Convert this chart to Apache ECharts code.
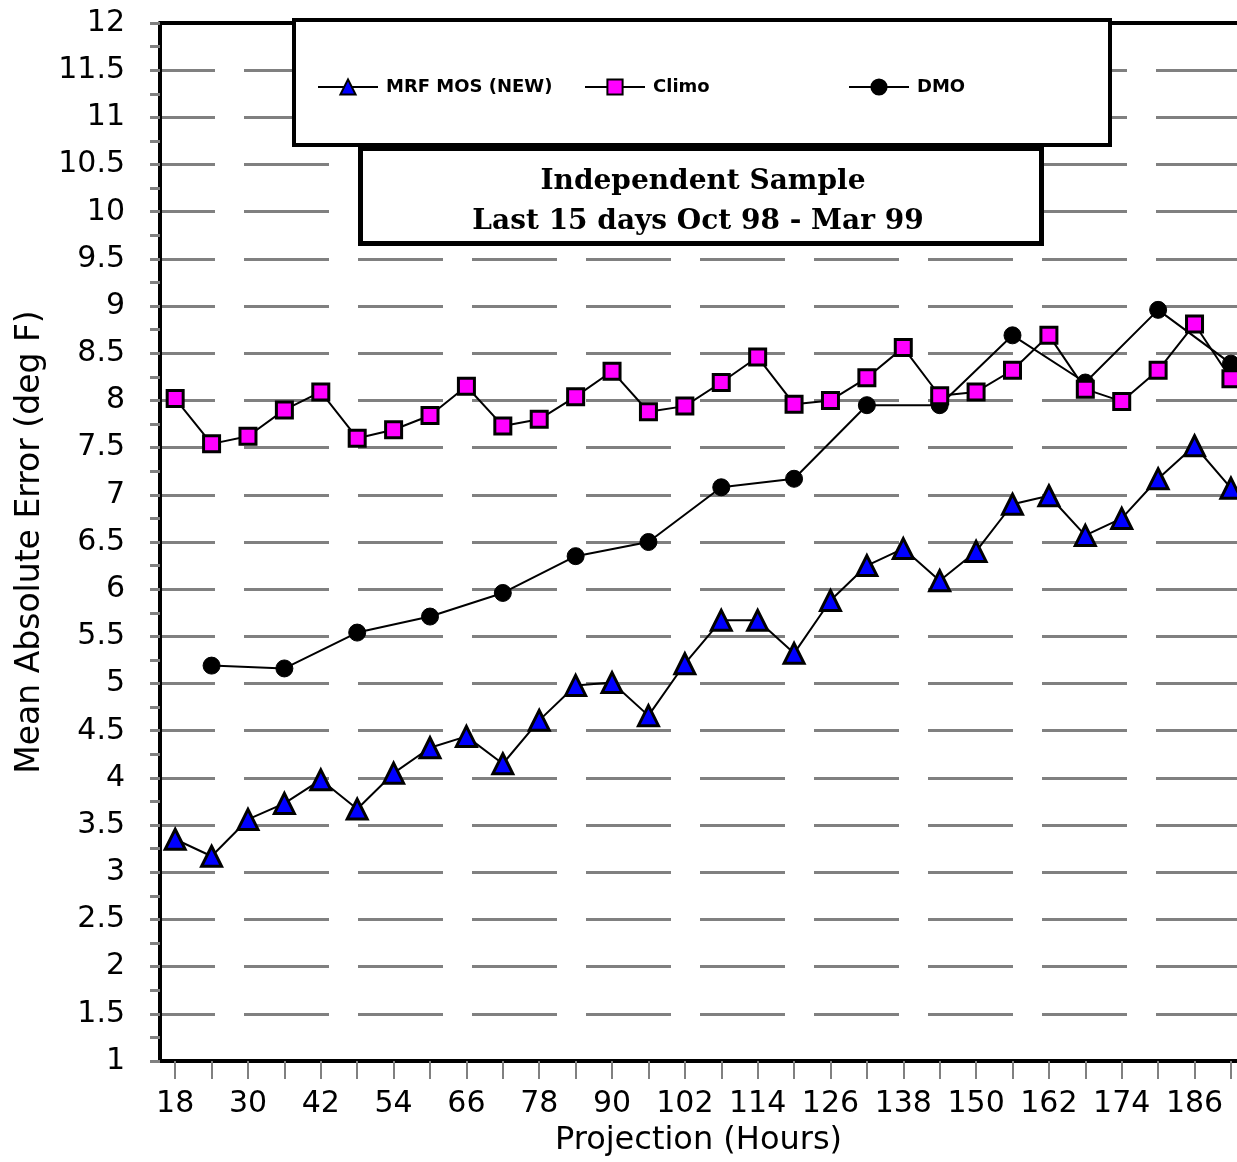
<!DOCTYPE html>
<html><head><meta charset="utf-8">
<script src="https://cdn.jsdelivr.net/npm/echarts@6/dist/echarts.min.js"></script>
<style>html,body{margin:0;padding:0;background:#fff}#c{width:1237px;height:1162px}</style>
</head><body><div id="c"></div>
<script>
const hours = [18,24,30,36,42,48,54,60,66,72,78,84,90,96,102,108,114,120,126,132,138,144,150,156,162,168,174,180,186,192];
const xTickLabels = [18,30,42,54,66,78,90,102,114,126,138,150,162,174,186];
const mrfMos = [3.35,3.17,3.56,3.73,3.98,3.67,4.05,4.32,4.44,4.15,4.61,4.98,5.01,4.66,5.21,5.67,5.67,5.32,5.88,6.25,6.43,6.09,6.40,6.90,6.99,6.57,6.75,7.17,7.52,7.07];
const climo = [8.02,7.54,7.62,7.90,8.09,7.60,7.69,7.84,8.15,7.73,7.80,8.04,8.31,7.88,7.94,8.19,8.46,7.96,8.00,8.24,8.56,8.05,8.09,8.32,8.69,8.12,7.99,8.32,8.81,8.23];
const dmoHours = [24,36,48,60,72,84,96,108,120,132,144,156,168,180,192];
const dmo = [5.19,5.16,5.54,5.71,5.96,6.35,6.50,7.08,7.17,7.95,7.95,8.69,8.19,8.96,8.39];
const seriesNames = ['MRF MOS (NEW)','Climo','DMO'];
const boxLines = ['Independent Sample','Last 15 days Oct 98 - Mar 99'];
const yAxisTitle = 'Mean Absolute Error (deg F)';
const xAxisTitle = 'Projection (Hours)';

const FONT = '"DejaVu Sans", "Liberation Sans", Arial, sans-serif';
const GRAY = '#808080';
const chart = echarts.init(document.getElementById('c'), null, {renderer:'canvas'});

function legendFor(name, left){
  return {
    data:[name], left:left, top:73, orient:'horizontal',
    itemWidth:60, itemHeight:19, z:30, selectedMode:false,
    textStyle:{fontFamily:FONT, fontWeight:'bold', fontSize:18, color:'#000', padding:[0,0,0,3]}
  };
}

chart.setOption({
  animation:false,
  backgroundColor:'#fff',
  grid:{left:160, right:-3, top:23, bottom:98},
  legend:[legendFor(seriesNames[0],312), legendFor(seriesNames[1],579), legendFor(seriesNames[2],843)],
  xAxis:[{
    type:'value', min:15.5, max:193, position:'bottom',
    name:xAxisTitle, nameLocation:'middle', nameGap:64,
    nameTextStyle:{fontFamily:FONT, fontSize:32, color:'#000'},
    axisLine:{show:true, lineStyle:{color:'#000', width:4}},
    axisTick:{show:true, customValues:hours, length:18, lineStyle:{color:GRAY, width:2}},
    axisLabel:{show:true, customValues:xTickLabels, margin:28, fontFamily:FONT, fontSize:30, color:'#000'},
    splitLine:{show:false}
  },{
    type:'value', min:15.5, max:193, position:'top',
    axisLine:{show:true, lineStyle:{color:'#000', width:4}},
    axisTick:{show:false}, axisLabel:{show:false}, splitLine:{show:false}
  }],
  yAxis:{
    type:'value', min:1, max:12, interval:0.5,
    name:yAxisTitle, nameLocation:'middle', nameGap:112,
    nameTextStyle:{fontFamily:FONT, fontSize:33, color:'#000'},
    axisLine:{show:true, lineStyle:{color:'#000', width:4}},
    axisTick:{show:true, length:10, lineStyle:{color:GRAY, width:3}},
    minorTick:{show:true, splitNumber:2, length:10, lineStyle:{color:GRAY, width:3}},
    axisLabel:{margin:35, fontFamily:FONT, fontSize:30, color:'#000'},
    splitLine:{show:true, lineStyle:{color:GRAY, width:3, type:[85,29], dashOffset:30}}
  },
  graphic:[
    {type:'rect', z:10, shape:{x:294, y:20, width:816, height:125}, style:{fill:'#fff', stroke:'#000', lineWidth:4}},
    {type:'rect', z:10, shape:{x:360.5, y:148.5, width:681, height:95}, style:{fill:'#fff', stroke:'#000', lineWidth:5}},
    {type:'text', z:11, style:{text:boxLines[0], x:703, y:182, align:'center', verticalAlign:'middle', font:'bold 28px "DejaVu Serif", "Liberation Serif", serif', fill:'#000'}},
    {type:'text', z:11, style:{text:boxLines[1], x:698, y:222, align:'center', verticalAlign:'middle', font:'bold 28px "DejaVu Serif", "Liberation Serif", serif', fill:'#000'}}
  ],
  series:[
    {name:seriesNames[0], type:'line', xAxisIndex:0, data:hours.map((h,i)=>[h,mrfMos[i]]),
      symbol:'triangle', symbolSize:20, showAllSymbol:true, z:3,
      itemStyle:{color:'#0000ff', borderColor:'#000', borderWidth:3},
      lineStyle:{color:'#000', width:2}},
    {name:seriesNames[2], type:'line', xAxisIndex:0, data:dmoHours.map((h,i)=>[h,dmo[i]]),
      symbol:'circle', symbolSize:17, showAllSymbol:true, z:3,
      itemStyle:{color:'#000', borderColor:'#000', borderWidth:1},
      lineStyle:{color:'#000', width:2}},
    {name:seriesNames[1], type:'line', xAxisIndex:0, data:hours.map((h,i)=>[h,climo[i]]),
      symbol:'rect', symbolSize:16, showAllSymbol:true, z:4,
      itemStyle:{color:'#ff00ff', borderColor:'#000', borderWidth:3},
      lineStyle:{color:'#000', width:2}}
  ]
});
</script>
</body></html>
